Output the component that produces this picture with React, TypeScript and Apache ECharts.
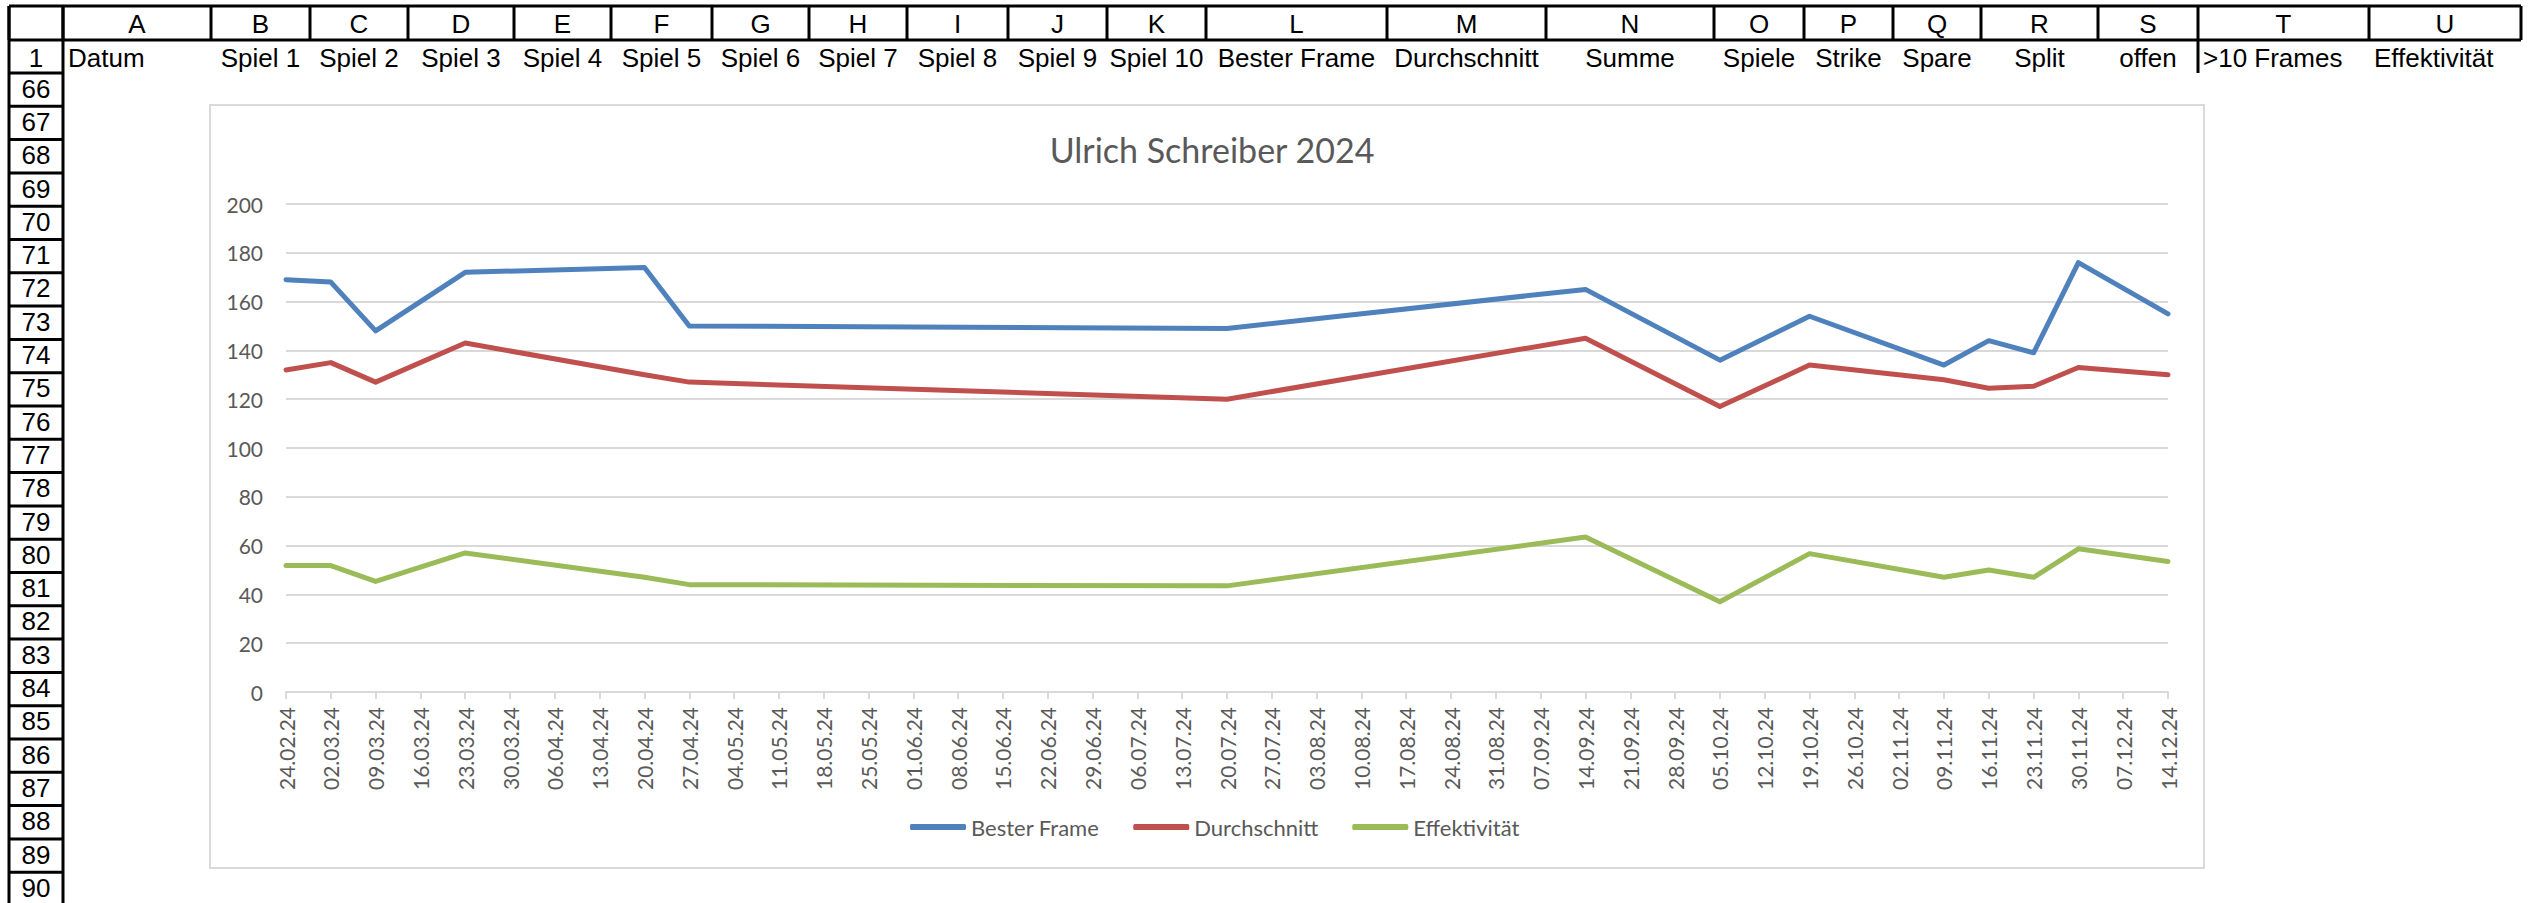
import React, { useEffect, useRef } from 'react';
import * as echarts from 'echarts';

// ---- chart data ----
const weekLabels = [
  '24.02.24', '02.03.24', '09.03.24', '16.03.24', '23.03.24', '30.03.24', '06.04.24', '13.04.24',
  '20.04.24', '27.04.24', '04.05.24', '11.05.24', '18.05.24', '25.05.24', '01.06.24', '08.06.24',
  '15.06.24', '22.06.24', '29.06.24', '06.07.24', '13.07.24', '20.07.24', '27.07.24', '03.08.24',
  '10.08.24', '17.08.24', '24.08.24', '31.08.24', '07.09.24', '14.09.24', '21.09.24', '28.09.24',
  '05.10.24', '12.10.24', '19.10.24', '26.10.24', '02.11.24', '09.11.24', '16.11.24', '23.11.24',
  '30.11.24', '07.12.24', '14.12.24',
];
const pointDates = [
  '24.02.24', '02.03.24', '09.03.24', '23.03.24', '20.04.24', '27.04.24', '20.07.24', '14.09.24',
  '05.10.24', '19.10.24', '09.11.24', '16.11.24', '23.11.24', '30.11.24', '14.12.24',
];
const besterFrame = [169, 168, 148, 172, 174, 150, 149, 165, 136, 154, 134, 144, 139, 176, 155];
const durchschnitt = [132, 135, 127, 143, 130, 127, 120, 145, 117, 134, 128, 124.5, 125.3, 133, 130];
const effektivitaet = [51.8, 51.8, 45.3, 57, 47, 44, 43.5, 63.5, 37, 56.7, 47, 50, 47, 58.7, 53.5];
const seriesNames = ['Bester Frame', 'Durchschnitt', 'Effektivität'];
const chartTitle = 'Ulrich Schreiber 2024';

// ---- spreadsheet texts ----
const columnLetters = ['A', 'B', 'C', 'D', 'E', 'F', 'G', 'H', 'I', 'J', 'K', 'L', 'M', 'N', 'O', 'P', 'Q', 'R', 'S', 'T', 'U'];
const headerLabels = [
  'Datum', 'Spiel 1', 'Spiel 2', 'Spiel 3', 'Spiel 4', 'Spiel 5', 'Spiel 6', 'Spiel 7', 'Spiel 8',
  'Spiel 9', 'Spiel 10', 'Bester Frame', 'Durchschnitt', 'Summe', 'Spiele', 'Strike', 'Spare',
  'Split', 'offen', '>10 Frames', 'Effektivität',
];
const rowNumbers = [
  '1', '66', '67', '68', '69', '70', '71', '72', '73', '74', '75', '76', '77', '78', '79', '80',
  '81', '82', '83', '84', '85', '86', '87', '88', '89', '90',
];

// ---- layout (pixels) ----
const colEdges = [9, 63, 211, 310, 408, 514, 611, 712, 809, 907, 1008, 1107, 1206, 1387, 1546, 1714, 1804, 1893, 1981, 2098, 2198, 2369, 2521];
const TOP = 6;
const HEADER_BOTTOM = 40;
const ROW1_BOTTOM = 73;
const ROW_H = 33.3;
const SHEET_FONT = '"Liberation Sans", Arial, sans-serif';
const CHART_FONT = 'Lato, "Open Sans", sans-serif';
const leftAligned = new Set([0, 19, 20]);

function buildSheetGraphics() {
  const els: any[] = [];
  const line = (x1: number, y1: number, x2: number, y2: number) => ({
    type: 'line', silent: true, z: 100,
    shape: { x1, y1, x2, y2 },
    style: { stroke: '#000', lineWidth: 3 },
  });
  const text = (t: string, x: number, y: number, align: string) => ({
    type: 'text', silent: true, z: 100, x, y,
    style: {
      text: t, fontSize: 26, lineHeight: 26, fontFamily: SHEET_FONT, fill: '#000',
      align, verticalAlign: 'middle', textAlign: align, textVerticalAlign: 'middle',
    },
  });
  const right = colEdges[colEdges.length - 1];
  els.push(line(colEdges[0], TOP, right, TOP));
  els.push(line(colEdges[0], HEADER_BOTTOM, right, HEADER_BOTTOM));
  colEdges.forEach((x) => els.push(line(x, TOP, x, HEADER_BOTTOM)));
  els.push(line(colEdges[0], TOP, colEdges[0], 910));
  els.push(line(colEdges[1], TOP, colEdges[1], 910));
  // row header boundaries
  const rowBounds: number[] = [ROW1_BOTTOM];
  for (let k = 1; k < rowNumbers.length; k++) rowBounds.push(ROW1_BOTTOM + k * ROW_H);
  rowBounds.forEach((y) => els.push(line(colEdges[0], y, colEdges[1], y)));
  // border left of T in row 1
  els.push(line(colEdges[20], HEADER_BOTTOM, colEdges[20], ROW1_BOTTOM));
  // column letters
  columnLetters.forEach((c, i) => {
    els.push(text(c, (colEdges[i + 1] + colEdges[i + 2]) / 2, (TOP + HEADER_BOTTOM) / 2 + 1, 'center'));
  });
  // row 1 labels
  headerLabels.forEach((h, i) => {
    const l = colEdges[i + 1];
    const r = colEdges[i + 2];
    if (leftAligned.has(i)) els.push(text(h, l + 5, (HEADER_BOTTOM + ROW1_BOTTOM) / 2 + 1, 'left'));
    else els.push(text(h, (l + r) / 2, (HEADER_BOTTOM + ROW1_BOTTOM) / 2 + 1, 'center'));
  });
  // row numbers
  rowNumbers.forEach((n, k) => {
    const cy = k === 0 ? (HEADER_BOTTOM + ROW1_BOTTOM) / 2 + 1 : ROW1_BOTTOM + (k - 0.5) * ROW_H - 1;
    els.push(text(n, (colEdges[0] + colEdges[1]) / 2, cy, 'center'));
  });
  // chart frame
  els.push({
    type: 'rect', silent: true, z: -10,
    shape: { x: 210, y: 105, width: 1994, height: 763 },
    style: { fill: 'none', stroke: '#d9d9d9', lineWidth: 2 },
  });
  return els;
}

const colors = ['#4F81BD', '#C0504D', '#9BBB59'];
const values = [besterFrame, durchschnitt, effektivitaet];

export default function App() {
  const ref = useRef<HTMLDivElement>(null);
  useEffect(() => {
    if (!ref.current) return;
    const chart = echarts.init(ref.current, null, { renderer: 'svg' });
    chart.setOption({
      animation: false,
      backgroundColor: '#ffffff',
      title: {
        text: chartTitle,
        left: 1207,
        top: 127,
        textAlign: 'center',
        textStyle: { fontSize: 34, fontWeight: 'normal', color: '#595959', fontFamily: CHART_FONT },
      },
      legend: {
        data: seriesNames,
        left: 905,
        top: 811,
        icon: 'roundRect',
        itemWidth: 56,
        itemHeight: 6,
        itemGap: 34,
        textStyle: { fontSize: 22, color: '#595959', fontFamily: CHART_FONT },
      },
      grid: { left: 286, right: 368, top: 204, bottom: 211, containLabel: false },
      xAxis: {
        type: 'category',
        data: weekLabels,
        boundaryGap: false,
        axisLine: { lineStyle: { color: '#d9d9d9', width: 2 } },
        axisTick: { show: true, length: 7, interval: 0, lineStyle: { color: '#d9d9d9', width: 2 } },
        axisLabel: { rotate: 90, interval: 0, fontSize: 21, color: '#595959', margin: 15, fontFamily: CHART_FONT },
        splitLine: { show: false },
      },
      yAxis: {
        type: 'value',
        min: 0,
        max: 200,
        interval: 20,
        axisLine: { show: false },
        axisTick: { show: false },
        axisLabel: { fontSize: 21, color: '#595959', margin: 23, fontFamily: CHART_FONT },
        splitLine: { lineStyle: { color: '#d9d9d9', width: 2 } },
      },
      series: seriesNames.map((name, s) => ({
        name,
        type: 'line',
        data: pointDates.map((d, i) => [d, values[s][i]]),
        showSymbol: false,
        symbol: 'none',
        color: colors[s],
        lineStyle: { width: 5, color: colors[s], cap: 'round', join: 'round' },
        z: 3,
      })),
      graphic: buildSheetGraphics(),
    });
    return () => chart.dispose();
  }, []);
  return (
    <div
      ref={ref}
      style={{ position: 'fixed', left: 0, top: 0, width: 2536, height: 903, background: '#fff' }}
    />
  );
}
